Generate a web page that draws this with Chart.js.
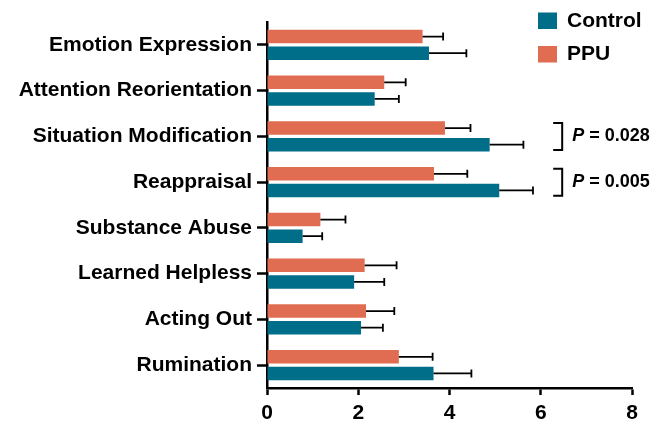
<!DOCTYPE html>
<html>
<head>
<meta charset="utf-8">
<script src="https://cdn.jsdelivr.net/npm/chart.js@4.4.1/dist/chart.umd.min.js"></script>
<style>
  html, body { margin: 0; padding: 0; background: #ffffff; }
  #wrap { width: 668px; height: 425px; }
</style>
</head>
<body>
<div id="wrap"><canvas id="chart" width="668" height="425"></canvas></div>
<script>
// Emotion regulation strategy scores, mean ± SD
const categories = [
  'Emotion Expression', 'Attention Reorientation', 'Situation Modification', 'Reappraisal',
  'Substance Abuse', 'Learned Helpless', 'Acting Out', 'Rumination'
];
const ppuMeans      = [3.41, 2.57, 3.90, 3.66, 1.17, 2.14, 2.17, 2.89];
const ppuErrors     = [0.45, 0.47, 0.56, 0.73, 0.55, 0.70, 0.62, 0.74];
const controlMeans  = [3.55, 2.36, 4.88, 5.09, 0.78, 1.91, 2.06, 3.65];
const controlErrors = [0.82, 0.53, 0.74, 0.74, 0.43, 0.66, 0.48, 0.83];
const xTicks = [0, 2, 4, 6, 8];

// Significant group differences
const sigIndices = [2, 3];
const sigValues  = ['0.028', '0.005'];

const TEAL = '#006d89';
const CORAL = '#e06c52';
const FONT = '"Liberation Sans", Arial, Helvetica, sans-serif';

// Whiskers on the positive side of each bar
const errorBars = {
  id: 'errorBars',
  afterDatasetsDraw(chart) {
    const ctx = chart.ctx;
    const xs = chart.scales.x;
    ctx.save();
    ctx.strokeStyle = '#000';
    ctx.lineWidth = 1.8;
    chart.data.datasets.forEach((ds, di) => {
      const meta = chart.getDatasetMeta(di);
      meta.data.forEach((bar, i) => {
        const end = xs.getPixelForValue(ds.data[i] + ds.errors[i]);
        ctx.beginPath();
        ctx.moveTo(bar.x, bar.y);
        ctx.lineTo(end, bar.y);
        ctx.moveTo(end, bar.y - 4);
        ctx.lineTo(end, bar.y + 4);
        ctx.stroke();
      });
    });
    ctx.restore();
  }
};

// Brackets with P values beside the compared pairs
const significance = {
  id: 'significance',
  afterDraw(chart) {
    const ctx = chart.ctx;
    const xs = chart.scales.x, ys = chart.scales.y;
    const bx = xs.getPixelForValue(6.47);
    ctx.save();
    ctx.strokeStyle = '#000';
    ctx.lineWidth = 2;
    ctx.fillStyle = '#000';
    ctx.textBaseline = 'middle';
    sigIndices.forEach((idx, k) => {
      const yc = ys.getPixelForValue(idx);
      const y0 = yc - 13.5, y1 = yc + 13.5;
      ctx.beginPath();
      ctx.moveTo(bx - 9, y0);
      ctx.lineTo(bx, y0);
      ctx.lineTo(bx, y1);
      ctx.lineTo(bx - 9, y1);
      ctx.stroke();
      let tx = bx + 10;
      ctx.font = 'italic bold 18px ' + FONT;
      ctx.fillText('P', tx, yc);
      tx += ctx.measureText('P').width;
      ctx.font = 'bold 18px ' + FONT;
      ctx.fillText(' = ' + sigValues[k], tx, yc);
    });
    ctx.restore();
  }
};

// Legend in the upper right, Control listed first
const cornerLegend = {
  id: 'cornerLegend',
  afterDraw(chart) {
    const ctx = chart.ctx;
    const order = [1, 0];
    const x = 538, rows = [12.5, 46];
    ctx.save();
    ctx.font = 'bold 21px ' + FONT;
    ctx.textBaseline = 'middle';
    order.forEach((di, r) => {
      const ds = chart.data.datasets[di];
      ctx.fillStyle = ds.backgroundColor;
      ctx.fillRect(x, rows[r], 19, 16.5);
      ctx.fillStyle = '#000';
      ctx.fillText(ds.label, x + 29, rows[r] + 8.5);
    });
    ctx.restore();
  }
};

new Chart(document.getElementById('chart'), {
  type: 'bar',
  data: {
    labels: categories,
    datasets: [
      { label: 'PPU', data: ppuMeans, errors: ppuErrors, backgroundColor: CORAL,
        categoryPercentage: 0.73, barPercentage: 0.8 },
      { label: 'Control', data: controlMeans, errors: controlErrors, backgroundColor: TEAL,
        categoryPercentage: 0.73, barPercentage: 0.8 }
    ]
  },
  options: {
    indexAxis: 'y',
    responsive: false,
    devicePixelRatio: 1,
    animation: false,
    layout: { padding: { top: 22, right: 36, left: 0, bottom: 0 } },
    plugins: { legend: { display: false }, tooltip: { enabled: false } },
    scales: {
      x: {
        min: 0, max: 8,
        afterBuildTicks(scale) { scale.ticks = xTicks.map(v => ({ value: v })); },
        afterFit(scale) { scale.height = 37; },
        border: { color: '#000', width: 2.5 },
        grid: { drawOnChartArea: false, tickLength: 7, tickWidth: 2.5, tickColor: '#000' },
        ticks: { color: '#000', padding: 6, font: { family: FONT, size: 21, weight: 'bold' } }
      },
      y: {
        z: 1,
        afterFit(scale) { scale.width = 267; },
        border: { color: '#000', width: 2.5 },
        grid: { offset: false, drawOnChartArea: false, tickLength: 10, tickWidth: 2.5, tickColor: '#000' },
        ticks: { color: '#000', padding: 5, font: { family: FONT, size: 21, weight: 'bold' } }
      }
    }
  },
  plugins: [errorBars, significance, cornerLegend]
});
</script>
</body>
</html>
